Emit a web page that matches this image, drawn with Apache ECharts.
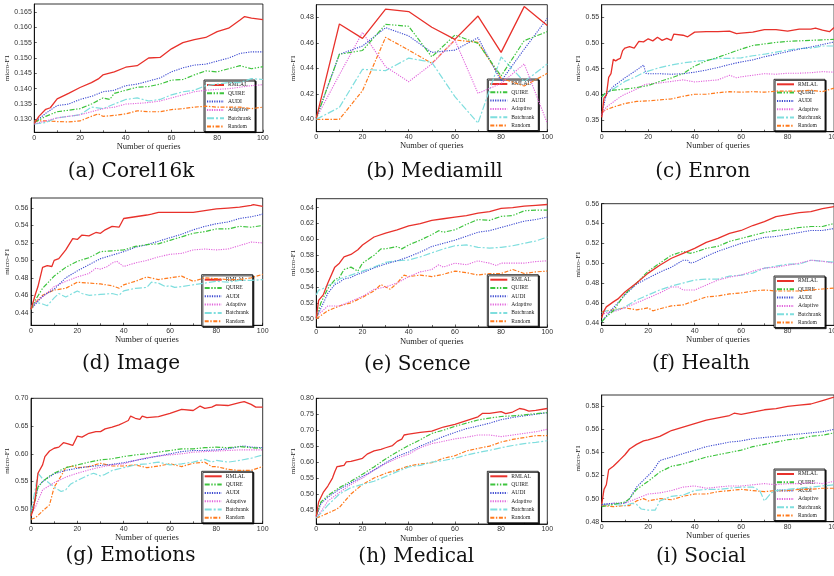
<!DOCTYPE html>
<html><head><meta charset="utf-8">
<script src="https://cdn.jsdelivr.net/npm/echarts@6/dist/echarts.min.js"></script>
<style>html,body{margin:0;padding:0;background:#fff}#c{width:834px;height:576px}</style>
</head><body><div id="c"></div>
<script>
const methods = ['RMLAL','QUIRE','AUDI','Adaptive','Batchrank','Random'];
const captions = ['(a) Corel16k','(b) Mediamill','(c) Enron','(d) Image','(e) Scence','(f) Health','(g) Emotions','(h) Medical','(i) Social'];
const xTicks = [0,20,40,60,80,100];

const corelTicks = [0.130,0.135,0.140,0.145,0.150,0.155,0.160,0.165];
const mediaTicks = [0.40,0.42,0.44,0.46,0.48];
const enronTicks = [0.35,0.40,0.45,0.50,0.55];
const imageTicks = [0.44,0.46,0.48,0.50,0.52,0.54,0.56];
const scenceTicks = [0.50,0.52,0.54,0.56,0.58,0.60,0.62,0.64];
const healthTicks = [0.44,0.46,0.48,0.50,0.52,0.54,0.56];
const emoTicks = [0.50,0.55,0.60,0.65,0.70];
const medTicks = [0.45,0.50,0.55,0.60,0.65,0.70,0.75,0.80];
const socialTicks = [0.48,0.50,0.52,0.54,0.56,0.58];

// (a) Corel16k
const corel_RMLAL = [[0,0.1287],[2,0.131],[5,0.1333],[7,0.1338],[10,0.1367],[15,0.1385],[20,0.1404],[25,0.142],[28,0.1432],[30,0.1445],[35,0.1455],[40,0.147],[45,0.1475],[50,0.150],[55,0.1502],[60,0.153],[65,0.155],[70,0.156],[75,0.1567],[80,0.1586],[85,0.1597],[90,0.1624],[92,0.1635],[95,0.163],[100,0.1625]];
const corel_QUIRE = [[0,0.129],[5,0.131],[10,0.1325],[15,0.133],[20,0.1335],[25,0.135],[30,0.137],[33,0.1365],[35,0.1385],[40,0.1395],[45,0.1405],[50,0.1407],[55,0.1415],[60,0.1428],[65,0.143],[70,0.1445],[75,0.1458],[80,0.1455],[85,0.1465],[90,0.1475],[95,0.1465],[100,0.1472]];
const corel_AUDI = [[0,0.129],[5,0.132],[10,0.1345],[15,0.135],[20,0.1365],[25,0.1375],[30,0.139],[35,0.1395],[40,0.141],[45,0.1415],[50,0.1425],[55,0.1435],[60,0.1455],[65,0.1468],[70,0.1477],[75,0.148],[80,0.149],[85,0.150],[90,0.1515],[95,0.152],[100,0.152]];
const corel_Adaptive = [[0,0.1285],[5,0.1295],[10,0.1305],[15,0.131],[20,0.1315],[25,0.1325],[30,0.1335],[35,0.134],[40,0.135],[45,0.1352],[50,0.1355],[55,0.136],[60,0.137],[65,0.138],[70,0.139],[75,0.1395],[80,0.1398],[85,0.140],[90,0.1405],[95,0.141],[100,0.1413]];
const corel_Batchrank = [[0,0.1285],[5,0.129],[10,0.1305],[15,0.131],[20,0.1315],[25,0.134],[30,0.1335],[35,0.135],[40,0.1365],[45,0.137],[50,0.136],[55,0.1365],[60,0.138],[65,0.139],[70,0.1395],[75,0.141],[80,0.1415],[85,0.142],[90,0.142],[95,0.1433],[100,0.143]];
const corel_Random = [[0,0.1295],[5,0.1295],[10,0.1293],[15,0.1292],[20,0.1295],[25,0.131],[28,0.1318],[30,0.131],[35,0.1313],[40,0.1318],[45,0.1328],[50,0.1325],[55,0.1325],[60,0.1332],[65,0.1335],[70,0.134],[75,0.1343],[80,0.134],[85,0.134],[90,0.134],[95,0.1335],[100,0.134]];

// (b) Mediamill
const media_RMLAL = [[0,0.401],[10,0.4748],[20,0.4635],[30,0.4865],[40,0.4845],[50,0.4722],[60,0.4627],[70,0.481],[80,0.4525],[90,0.4884],[100,0.4735]];
const media_QUIRE = [[0,0.401],[10,0.451],[20,0.454],[30,0.4745],[40,0.473],[50,0.449],[60,0.4661],[70,0.4596],[80,0.434],[90,0.4617],[100,0.4688]];
const media_AUDI = [[0,0.401],[10,0.451],[20,0.4575],[30,0.4719],[40,0.4654],[50,0.4525],[60,0.4543],[70,0.464],[80,0.430],[90,0.455],[100,0.4792]];
const media_Adaptive = [[0,0.401],[10,0.435],[20,0.4682],[30,0.4413],[40,0.4295],[50,0.4434],[60,0.4622],[70,0.4204],[80,0.4282],[90,0.4434],[100,0.3969]];
const media_Batchrank = [[0,0.400],[10,0.4094],[20,0.4392],[30,0.4382],[40,0.448],[50,0.4447],[60,0.4178],[70,0.397],[80,0.449],[90,0.4295],[100,0.4434]];
const media_Random = [[0,0.400],[10,0.400],[20,0.4225],[30,0.4643],[40,0.4543],[50,0.4439],[60,0.4622],[70,0.4604],[80,0.4322],[90,0.4261],[100,0.4361]];

// (c) Enron
const enron_RMLAL = [[0,0.355],[1,0.393],[2,0.398],[3,0.433],[4,0.44],[5,0.468],[6,0.465],[7,0.468],[8,0.470],[9,0.485],[10,0.490],[12,0.493],[14,0.490],[16,0.503],[18,0.502],[20,0.508],[22,0.504],[24,0.511],[26,0.505],[28,0.509],[30,0.505],[31,0.517],[35,0.515],[37,0.512],[40,0.521],[45,0.522],[50,0.522],[55,0.523],[58,0.518],[60,0.519],[65,0.521],[70,0.526],[75,0.526],[80,0.523],[85,0.527],[90,0.527],[92,0.529],[95,0.525],[98,0.522],[100,0.530]];
const enron_QUIRE = [[0,0.395],[2,0.405],[5,0.408],[10,0.410],[15,0.413],[20,0.417],[25,0.425],[30,0.432],[35,0.44],[40,0.455],[45,0.465],[50,0.472],[55,0.480],[60,0.488],[65,0.495],[70,0.498],[75,0.501],[80,0.503],[85,0.504],[90,0.505],[95,0.506],[100,0.507]];
const enron_AUDI = [[0,0.36],[2,0.40],[5,0.415],[10,0.432],[15,0.447],[18,0.457],[19,0.441],[20,0.440],[25,0.44],[30,0.439],[35,0.440],[40,0.443],[45,0.447],[50,0.452],[55,0.458],[60,0.463],[65,0.467],[70,0.473],[75,0.478],[80,0.483],[85,0.488],[90,0.492],[95,0.497],[100,0.502]];
const enron_Adaptive = [[0,0.360],[2,0.375],[5,0.385],[8,0.395],[10,0.400],[15,0.410],[18,0.418],[20,0.420],[25,0.422],[30,0.425],[35,0.428],[40,0.424],[45,0.426],[50,0.428],[55,0.437],[58,0.432],[60,0.434],[65,0.437],[70,0.440],[75,0.439],[80,0.441],[85,0.441],[90,0.442],[95,0.444],[100,0.443]];
const enron_Batchrank = [[0,0.395],[2,0.402],[5,0.410],[10,0.425],[15,0.435],[18,0.442],[20,0.445],[25,0.452],[30,0.457],[35,0.461],[40,0.464],[45,0.466],[50,0.470],[55,0.470],[60,0.471],[65,0.475],[70,0.478],[75,0.482],[80,0.486],[85,0.489],[90,0.490],[95,0.494],[100,0.494]];
const enron_Random = [[0,0.365],[2,0.370],[5,0.375],[10,0.382],[15,0.386],[20,0.387],[25,0.389],[30,0.391],[35,0.396],[40,0.400],[45,0.400],[50,0.403],[55,0.405],[60,0.404],[65,0.405],[70,0.404],[75,0.406],[80,0.406],[85,0.406],[90,0.408],[95,0.405],[100,0.412]];

// (d) Image
const image_RMLAL = [[0,0.444],[2,0.462],[3,0.47],[5,0.492],[7,0.494],[9,0.493],[10,0.500],[12,0.502],[15,0.512],[18,0.525],[20,0.524],[22,0.529],[25,0.528],[28,0.532],[30,0.531],[32,0.535],[35,0.539],[38,0.538],[40,0.548],[45,0.550],[50,0.552],[52,0.553],[55,0.555],[60,0.555],[65,0.555],[70,0.555],[75,0.557],[80,0.559],[85,0.560],[90,0.561],[95,0.563],[96,0.564],[100,0.562]];
const image_QUIRE = [[0,0.444],[2,0.455],[5,0.468],[10,0.482],[15,0.492],[20,0.499],[25,0.503],[30,0.510],[35,0.511],[40,0.512],[45,0.516],[50,0.518],[55,0.519],[60,0.523],[65,0.527],[70,0.531],[75,0.533],[80,0.536],[85,0.536],[90,0.539],[95,0.538],[100,0.540]];
const image_AUDI = [[0,0.444],[2,0.450],[5,0.459],[10,0.467],[15,0.480],[20,0.488],[25,0.495],[30,0.502],[35,0.506],[40,0.510],[45,0.515],[50,0.518],[55,0.522],[60,0.526],[65,0.530],[70,0.535],[75,0.539],[80,0.542],[85,0.544],[90,0.548],[95,0.550],[100,0.553]];
const image_Adaptive = [[0,0.445],[2,0.452],[5,0.458],[10,0.470],[15,0.476],[20,0.481],[25,0.485],[28,0.491],[30,0.490],[33,0.493],[35,0.497],[37,0.499],[40,0.493],[45,0.497],[50,0.500],[55,0.504],[60,0.507],[65,0.508],[70,0.512],[75,0.513],[80,0.512],[85,0.513],[90,0.517],[95,0.521],[100,0.520]];
const image_Batchrank = [[0,0.447],[2,0.452],[5,0.450],[7,0.448],[10,0.457],[12,0.462],[15,0.458],[20,0.465],[22,0.462],[25,0.460],[30,0.461],[35,0.462],[38,0.460],[40,0.465],[45,0.468],[50,0.469],[52,0.475],[55,0.474],[58,0.470],[60,0.471],[62,0.469],[65,0.470],[70,0.472],[75,0.474],[80,0.476],[85,0.475],[90,0.477],[95,0.477],[100,0.478]];
const image_Random = [[0,0.444],[2,0.452],[5,0.460],[10,0.466],[15,0.468],[20,0.475],[25,0.474],[30,0.473],[35,0.471],[38,0.468],[40,0.472],[45,0.476],[50,0.481],[55,0.478],[60,0.480],[65,0.482],[70,0.476],[75,0.480],[80,0.479],[85,0.478],[90,0.478],[95,0.480],[100,0.484]];

// (e) Scence
const scence_RMLAL = [[0,0.501],[1,0.523],[3,0.530],[5,0.545],[8,0.565],[10,0.570],[12,0.578],[15,0.581],[18,0.587],[20,0.593],[25,0.603],[30,0.608],[35,0.612],[40,0.617],[45,0.620],[50,0.624],[55,0.626],[60,0.628],[65,0.630],[70,0.633],[75,0.635],[80,0.639],[85,0.640],[90,0.642],[95,0.643],[100,0.644]];
const scence_QUIRE = [[0,0.501],[2,0.520],[5,0.538],[8,0.549],[10,0.552],[12,0.562],[15,0.565],[18,0.560],[20,0.570],[25,0.580],[28,0.588],[30,0.588],[35,0.591],[37,0.588],[40,0.593],[45,0.599],[50,0.606],[53,0.611],[55,0.609],[60,0.612],[65,0.619],[70,0.625],[75,0.624],[80,0.629],[85,0.630],[90,0.636],[95,0.637],[100,0.637]];
const scence_AUDI = [[0,0.501],[2,0.513],[5,0.532],[8,0.543],[10,0.546],[12,0.550],[15,0.552],[18,0.556],[20,0.558],[25,0.564],[30,0.569],[35,0.573],[40,0.578],[45,0.584],[50,0.591],[55,0.595],[60,0.599],[65,0.604],[70,0.609],[75,0.611],[80,0.615],[85,0.619],[90,0.623],[95,0.625],[100,0.628]];
const scence_Adaptive = [[0,0.503],[2,0.508],[5,0.516],[10,0.516],[15,0.522],[20,0.528],[25,0.537],[30,0.540],[35,0.545],[40,0.553],[45,0.559],[50,0.562],[53,0.568],[55,0.565],[60,0.570],[65,0.568],[70,0.573],[75,0.570],[78,0.567],[80,0.570],[85,0.570],[90,0.570],[95,0.572],[100,0.573]];
const scence_Batchrank = [[0,0.530],[1,0.536],[3,0.538],[5,0.542],[8,0.545],[10,0.550],[15,0.555],[20,0.560],[25,0.565],[30,0.571],[35,0.573],[40,0.574],[45,0.578],[50,0.583],[55,0.588],[60,0.592],[65,0.593],[70,0.590],[75,0.589],[80,0.590],[85,0.592],[90,0.595],[95,0.598],[100,0.603]];
const scence_Random = [[0,0.500],[2,0.504],[5,0.510],[10,0.516],[15,0.520],[20,0.527],[25,0.535],[28,0.543],[30,0.540],[32,0.537],[35,0.545],[38,0.555],[40,0.553],[45,0.555],[50,0.553],[55,0.556],[60,0.560],[65,0.558],[70,0.555],[75,0.557],[80,0.557],[85,0.562],[90,0.557],[95,0.559],[100,0.560]];

// (f) Health
const health_RMLAL = [[0,0.445],[1,0.452],[2,0.456],[5,0.461],[7,0.464],[10,0.471],[15,0.480],[20,0.490],[25,0.498],[30,0.505],[35,0.510],[40,0.515],[45,0.521],[50,0.525],[55,0.530],[60,0.533],[65,0.538],[70,0.542],[75,0.547],[80,0.549],[85,0.551],[90,0.552],[95,0.555],[100,0.557]];
const health_QUIRE = [[0,0.441],[2,0.446],[5,0.452],[10,0.469],[15,0.480],[20,0.492],[25,0.500],[30,0.508],[35,0.512],[38,0.510],[40,0.511],[45,0.515],[50,0.517],[55,0.522],[60,0.525],[65,0.528],[70,0.531],[75,0.533],[80,0.534],[85,0.536],[90,0.537],[95,0.537],[100,0.540]];
const health_AUDI = [[0,0.441],[2,0.447],[5,0.455],[10,0.468],[15,0.479],[20,0.485],[25,0.491],[30,0.496],[35,0.503],[37,0.503],[38,0.500],[40,0.501],[45,0.507],[50,0.512],[55,0.516],[60,0.520],[65,0.523],[70,0.526],[75,0.527],[80,0.529],[85,0.531],[90,0.533],[95,0.533],[100,0.535]];
const health_Adaptive = [[0,0.448],[2,0.450],[5,0.451],[10,0.455],[15,0.460],[20,0.465],[25,0.470],[30,0.476],[33,0.476],[35,0.473],[40,0.473],[45,0.478],[50,0.483],[55,0.486],[60,0.488],[65,0.492],[70,0.495],[75,0.496],[80,0.498],[85,0.500],[90,0.503],[95,0.502],[100,0.500]];
const health_Batchrank = [[0,0.450],[2,0.452],[5,0.452],[10,0.456],[15,0.463],[20,0.468],[25,0.473],[30,0.477],[35,0.480],[40,0.483],[45,0.484],[50,0.484],[55,0.487],[60,0.488],[65,0.490],[70,0.495],[75,0.497],[80,0.499],[85,0.499],[90,0.503],[95,0.502],[100,0.501]];
const health_Random = [[0,0.451],[2,0.452],[5,0.453],[10,0.455],[15,0.453],[20,0.455],[22,0.452],[25,0.454],[30,0.457],[35,0.458],[40,0.462],[45,0.466],[50,0.467],[55,0.469],[60,0.470],[65,0.472],[70,0.473],[75,0.472],[80,0.472],[85,0.472],[90,0.473],[95,0.474],[100,0.475]];

// (g) Emotions
const emo_RMLAL = [[0,0.488],[1,0.500],[2,0.525],[3,0.565],[5,0.580],[6,0.595],[8,0.605],[10,0.610],[12,0.612],[14,0.620],[16,0.618],[18,0.615],[20,0.632],[22,0.630],[25,0.637],[28,0.640],[30,0.640],[32,0.645],[35,0.648],[38,0.652],[40,0.656],[42,0.660],[43,0.668],[45,0.664],[47,0.662],[48,0.668],[50,0.665],[55,0.667],[60,0.673],[65,0.680],[70,0.678],[73,0.686],[75,0.682],[78,0.684],[80,0.688],[85,0.687],[90,0.692],[92,0.694],[95,0.689],[97,0.684],[100,0.684]];
const emo_QUIRE = [[0,0.490],[2,0.520],[3,0.540],[5,0.550],[8,0.560],[10,0.565],[15,0.575],[20,0.580],[25,0.585],[30,0.589],[35,0.591],[40,0.595],[45,0.598],[50,0.600],[55,0.603],[60,0.606],[65,0.609],[70,0.609],[75,0.611],[80,0.612],[85,0.611],[90,0.613],[95,0.611],[100,0.610]];
const emo_AUDI = [[0,0.495],[2,0.520],[3,0.540],[5,0.550],[10,0.564],[15,0.570],[20,0.574],[25,0.577],[30,0.579],[35,0.581],[40,0.584],[45,0.588],[50,0.592],[55,0.596],[60,0.600],[65,0.604],[70,0.606],[75,0.606],[80,0.607],[85,0.609],[90,0.613],[92,0.614],[95,0.612],[100,0.611]];
const emo_Adaptive = [[0,0.490],[2,0.505],[5,0.535],[10,0.548],[15,0.558],[20,0.565],[25,0.571],[30,0.576],[35,0.580],[40,0.582],[45,0.588],[50,0.593],[55,0.596],[60,0.598],[65,0.600],[70,0.603],[75,0.604],[80,0.605],[85,0.606],[90,0.607],[95,0.607],[100,0.607]];
const emo_Batchrank = [[0,0.495],[2,0.540],[3,0.565],[5,0.555],[7,0.550],[10,0.540],[13,0.532],[15,0.535],[17,0.545],[20,0.552],[25,0.562],[27,0.565],[30,0.560],[32,0.563],[35,0.570],[40,0.575],[45,0.580],[50,0.582],[55,0.585],[60,0.580],[65,0.582],[70,0.585],[75,0.590],[78,0.585],[80,0.588],[85,0.585],[90,0.588],[95,0.592],[100,0.598]];
const emo_Random = [[0,0.482],[2,0.485],[5,0.497],[8,0.508],[10,0.540],[13,0.560],[15,0.575],[18,0.578],[20,0.575],[25,0.577],[30,0.583],[35,0.578],[40,0.578],[45,0.580],[50,0.575],[55,0.578],[60,0.582],[65,0.577],[70,0.583],[75,0.585],[78,0.577],[80,0.577],[85,0.572],[90,0.570],[95,0.570],[100,0.577]];

// (h) Medical
const med_RMLAL = [[0,0.430],[1,0.475],[2,0.490],[3,0.505],[5,0.525],[7,0.550],[8,0.570],[9,0.586],[10,0.587],[12,0.590],[13,0.601],[15,0.602],[18,0.608],[20,0.612],[22,0.625],[25,0.635],[28,0.640],[30,0.645],[33,0.652],[35,0.665],[37,0.672],[38,0.685],[40,0.688],[45,0.693],[50,0.697],[55,0.710],[60,0.718],[65,0.730],[70,0.742],[72,0.753],[75,0.753],[80,0.758],[82,0.752],[85,0.757],[88,0.768],[90,0.765],[92,0.760],[95,0.762],[100,0.768]];
const med_QUIRE = [[0,0.432],[2,0.475],[5,0.495],[10,0.520],[15,0.540],[20,0.562],[25,0.585],[30,0.610],[35,0.632],[40,0.652],[45,0.670],[50,0.690],[55,0.700],[60,0.712],[65,0.722],[70,0.732],[75,0.738],[80,0.743],[85,0.745],[90,0.748],[95,0.752],[100,0.755]];
const med_AUDI = [[0,0.430],[2,0.470],[5,0.490],[10,0.515],[15,0.535],[20,0.555],[25,0.575],[30,0.598],[35,0.618],[40,0.632],[45,0.650],[50,0.665],[55,0.680],[60,0.693],[65,0.705],[70,0.713],[75,0.722],[80,0.733],[85,0.740],[90,0.745],[95,0.750],[100,0.755]];
const med_Adaptive = [[0,0.428],[2,0.445],[5,0.478],[10,0.505],[15,0.530],[20,0.550],[25,0.575],[30,0.595],[35,0.612],[40,0.625],[45,0.645],[50,0.658],[55,0.665],[60,0.673],[65,0.678],[70,0.685],[75,0.685],[80,0.680],[85,0.685],[90,0.690],[95,0.695],[100,0.703]];
const med_Batchrank = [[0,0.425],[2,0.440],[5,0.465],[10,0.500],[15,0.520],[20,0.530],[25,0.540],[30,0.555],[35,0.570],[40,0.585],[45,0.590],[50,0.600],[55,0.605],[60,0.612],[65,0.622],[70,0.630],[75,0.637],[80,0.645],[85,0.652],[90,0.658],[95,0.662],[100,0.667]];
const med_Random = [[0,0.425],[2,0.430],[5,0.440],[8,0.450],[10,0.458],[12,0.475],[15,0.500],[20,0.530],[25,0.550],[30,0.565],[35,0.575],[40,0.588],[45,0.594],[50,0.598],[55,0.612],[60,0.620],[65,0.635],[70,0.643],[75,0.650],[80,0.663],[85,0.671],[90,0.677],[95,0.683],[100,0.683]];

// (i) Social
const social_RMLAL = [[0,0.495],[1,0.508],[2,0.512],[3,0.525],[5,0.528],[7,0.532],[8,0.534],[10,0.538],[12,0.543],[15,0.547],[18,0.550],[20,0.551],[25,0.554],[28,0.557],[30,0.559],[35,0.562],[40,0.565],[45,0.568],[50,0.570],[55,0.572],[57,0.574],[60,0.573],[65,0.575],[70,0.577],[75,0.578],[80,0.580],[85,0.581],[90,0.582],[95,0.585],[100,0.588]];
const social_QUIRE = [[0,0.493],[5,0.495],[10,0.497],[12,0.500],[15,0.508],[20,0.515],[25,0.523],[30,0.528],[35,0.530],[40,0.533],[45,0.536],[50,0.538],[55,0.540],[60,0.542],[65,0.545],[70,0.547],[75,0.549],[80,0.551],[85,0.552],[90,0.554],[95,0.555],[100,0.557]];
const social_AUDI = [[0,0.495],[5,0.496],[10,0.496],[12,0.500],[15,0.510],[20,0.520],[22,0.524],[25,0.533],[30,0.536],[35,0.539],[40,0.542],[45,0.545],[50,0.547],[55,0.549],[60,0.550],[65,0.552],[70,0.553],[75,0.554],[80,0.555],[85,0.556],[90,0.557],[95,0.558],[100,0.560]];
const social_Adaptive = [[0,0.494],[5,0.496],[10,0.496],[15,0.500],[20,0.504],[25,0.505],[30,0.507],[35,0.510],[40,0.511],[45,0.509],[50,0.510],[55,0.511],[60,0.511],[65,0.512],[70,0.513],[75,0.512],[80,0.513],[85,0.513],[90,0.514],[95,0.513],[100,0.515]];
const social_Batchrank = [[0,0.495],[5,0.495],[10,0.494],[13,0.496],[15,0.495],[17,0.491],[20,0.490],[23,0.490],[25,0.498],[30,0.502],[35,0.503],[40,0.507],[45,0.508],[50,0.508],[55,0.509],[60,0.510],[65,0.510],[68,0.507],[70,0.498],[73,0.505],[75,0.507],[80,0.508],[85,0.509],[90,0.510],[95,0.511],[100,0.512]];
const social_Random = [[0,0.494],[5,0.493],[10,0.494],[12,0.494],[15,0.498],[18,0.500],[20,0.498],[25,0.500],[30,0.499],[35,0.502],[40,0.504],[45,0.504],[50,0.506],[55,0.507],[60,0.508],[65,0.507],[70,0.506],[75,0.507],[80,0.507],[85,0.508],[90,0.508],[95,0.509],[100,0.509]];

// ---- assembly ----
const panelData = [
  [corel_RMLAL,corel_QUIRE,corel_AUDI,corel_Adaptive,corel_Batchrank,corel_Random],
  [media_RMLAL,media_QUIRE,media_AUDI,media_Adaptive,media_Batchrank,media_Random],
  [enron_RMLAL,enron_QUIRE,enron_AUDI,enron_Adaptive,enron_Batchrank,enron_Random],
  [image_RMLAL,image_QUIRE,image_AUDI,image_Adaptive,image_Batchrank,image_Random],
  [scence_RMLAL,scence_QUIRE,scence_AUDI,scence_Adaptive,scence_Batchrank,scence_Random],
  [health_RMLAL,health_QUIRE,health_AUDI,health_Adaptive,health_Batchrank,health_Random],
  [emo_RMLAL,emo_QUIRE,emo_AUDI,emo_Adaptive,emo_Batchrank,emo_Random],
  [med_RMLAL,med_QUIRE,med_AUDI,med_Adaptive,med_Batchrank,med_Random],
  [social_RMLAL,social_QUIRE,social_AUDI,social_Adaptive,social_Batchrank,social_Random]
];
const panelTicks = [corelTicks,mediaTicks,enronTicks,imageTicks,scenceTicks,healthTicks,emoTicks,medTicks,socialTicks];
const tickDecimals = [3,2,2,2,2,2,2,2,2];

// layout (pixels)
const gridBox = [
  {l:34.3,t:4,w:228.6,h:128.3, ymin:0.1258, ymax:0.1676, ng:24},
  {l:316.3,t:4.7,w:231,h:127, ymin:0.3903, ymax:0.4899, ng:20},
  {l:601.7,t:4.7,w:232.4,h:127, ymin:0.327, ymax:0.5745, ng:20},
  {l:31,t:198,w:231.7,h:127.3, ymin:0.4256, ymax:0.5715, ng:20},
  {l:316.3,t:198.7,w:231,h:128.3, ymin:0.4895, ymax:0.6513, ng:20},
  {l:601.7,t:203.7,w:232.4,h:121.6, ymin:0.4374, ymax:0.56, ng:20},
  {l:31,t:398.3,w:231.7,h:125, ymin:0.4748, ymax:0.70, ng:20},
  {l:316.3,t:398.3,w:231,h:125.7, ymin:0.406, ymax:0.80, ng:20},
  {l:601.7,t:395,w:232.4,h:126.7, ymin:0.48, ymax:0.5898, ng:20}
];
const legendPos = [
  {l:204,t:80},{l:487.3,t:79},{l:774,t:79.3},
  {l:201.7,t:274.7},{l:487.3,t:274.7},{l:774,t:276},
  {l:201.7,t:471.3},{l:487.3,t:471.3},{l:774,t:469}
];
const capPos = [
  {x:131,y:172},{x:434.5,y:172},{x:702.7,y:172},
  {x:131,y:364},{x:417.3,y:365},{x:701,y:364},
  {x:130.5,y:556},{x:416.3,y:557},{x:701,y:557}
];

const colors = ['#e8312b','#3ec43e','#3a48d0','#e264dc','#7fdede','#ff7a1c'];
const dashes = ['solid',[5,1.6,1.4,1.6,1.4,1.6],[1.2,1.2],[1.2,1.2],[7,2,2,2],[4,1.6,1.4,1.6]];
const widths = [1.3,1.2,1.1,1.1,1.2,1.2];

const grids=[], xAxes=[], yAxes=[], series=[], legends=[], graphics=[];
const sansF = 'Liberation Sans, Arial, sans-serif';
const serifF = 'Liberation Serif, Times New Roman, serif';
for (let i=0;i<9;i++){
  const g = gridBox[i];
  grids.push({left:g.l, top:g.t, width:g.w, height:g.h, show:true, borderColor:'#000', borderWidth:0.8, backgroundColor:'#fff', containLabel:false, outerBoundsMode:'none'});
  xAxes.push({type:'value', gridIndex:i, min:0, max:100, interval:20,
    axisLine:{show:true, onZero:false, lineStyle:{color:'#000',width:0.8}},
    axisTick:{show:true, inside:true, length:2.5, lineStyle:{color:'#000',width:0.6}},
    minorTick:{show:true, splitNumber:2, length:2, lineStyle:{color:'#000',width:0.6}},
    axisLabel:{show:true, margin:2, fontSize:7, fontFamily:sansF, color:'#333', customValues:xTicks},
    splitLine:{show:false},
    name:'Number of queries', nameLocation:'middle', nameGap:7.5,
    nameTextStyle:{fontSize:8.5, fontFamily:serifF, color:'#222', verticalAlign:'top'}
  });
  const d = tickDecimals[i];
  yAxes.push({type:'value', gridIndex:i, min:g.ymin, max:g.ymax,
    axisLine:{show:true, onZero:false, lineStyle:{color:'#000',width:0.8}},
    axisTick:{show:true, inside:true, length:2.5, customValues:panelTicks[i], lineStyle:{color:'#000',width:0.6}},
    axisLabel:{show:true, margin:2.5, fontSize:7, fontFamily:sansF, color:'#333', customValues:panelTicks[i], formatter:v=>v.toFixed(d)},
    splitLine:{show:false},
    name:'micro-F1', nameLocation:'middle', nameGap:g.ng, nameRotate:90,
    nameTextStyle:{fontSize:7, fontFamily:serifF, color:'#222'}
  });
  for (let j=0;j<6;j++){
    series.push({type:'line', name:methods[j], xAxisIndex:i, yAxisIndex:i, data:panelData[i][j],
      symbol:'none', showSymbol:false, clip:true, animation:false, z: 10-j,
      lineStyle:{color:colors[j], width:widths[j], type:dashes[j]}, itemStyle:{color:colors[j]}});
  }
  legends.push({data:methods, orient:'vertical', left:legendPos[i].l, top:legendPos[i].t,
    itemWidth:17, itemHeight:6, itemGap:1.3, selectedMode:false,
    itemStyle:{color:'rgba(0,0,0,0)', borderColor:'rgba(0,0,0,0)', borderWidth:0, opacity:0},
    textStyle:{fontSize:5.6, lineHeight:7, fontFamily:serifF, color:'#222', padding:[0,0,0,-1]},
    backgroundColor:'#fff', borderColor:'#000', borderWidth:0.8, borderRadius:0,
    padding:[1.5,4,1.5,2], shadowColor:'rgba(0,0,0,0.85)', shadowOffsetX:1.2, shadowOffsetY:1.2, shadowBlur:0});
  graphics.push({type:'text', x:capPos[i].x, y:capPos[i].y, style:{text:captions[i], fill:'#111', font:'20px "DejaVu Serif", serif', textAlign:'center', textVerticalAlign:'middle'}});
}

const chart = echarts.init(document.getElementById('c'), null, {renderer:'canvas'});
chart.setOption({animation:false, backgroundColor:'#fff', grid:grids, xAxis:xAxes, yAxis:yAxes, series:series, legend:legends, graphic:graphics});
</script>
</body></html>
